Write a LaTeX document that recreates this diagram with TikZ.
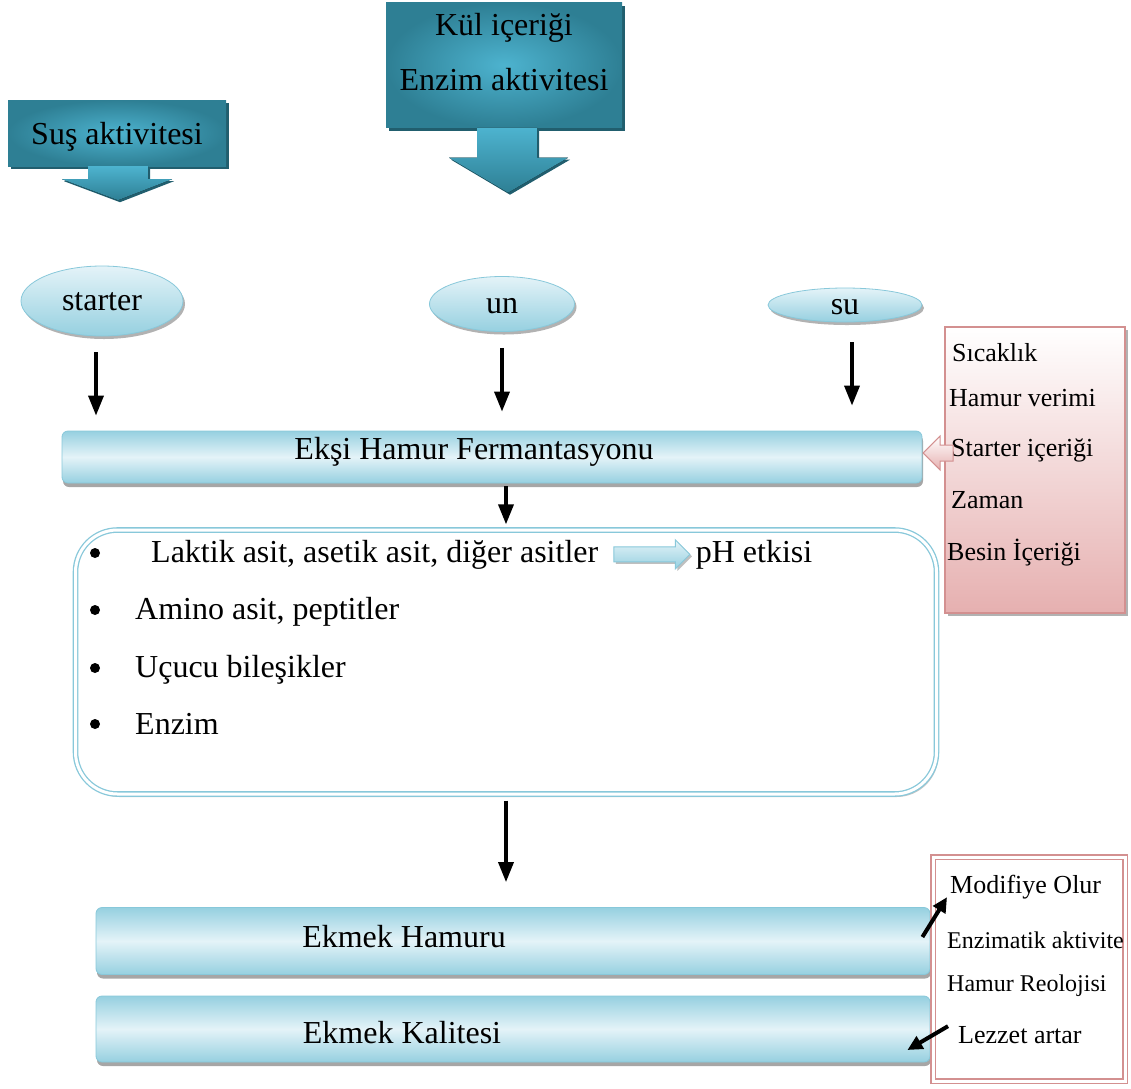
\documentclass[tikz,border=0pt]{standalone}
\usepackage{fontspec}
\setmainfont{Liberation Serif}
\usepackage{xcolor}
\usepackage{tikz}
\usetikzlibrary{shapes.geometric}
\usetikzlibrary{shapes.arrows}
\usetikzlibrary{positioning}
\usetikzlibrary{calc}
\usetikzlibrary{shadows}
\usetikzlibrary{arrows.meta}

\definecolor{tealdark}{HTML}{2E7F94}
\definecolor{teallight}{HTML}{4DB3CF}
\definecolor{tealshade}{HTML}{215E6E}
\definecolor{blueline}{HTML}{88C8DA}
\definecolor{bluefill}{HTML}{96D0E0}
\definecolor{bluepale}{HTML}{E4F3F8}
\definecolor{pinkline}{HTML}{D39090}
\definecolor{pinkfill}{HTML}{E6B0B0}

\newcommand{\mainsize}{\fontsize{32}{38}\selectfont}
\newcommand{\sidesize}{\fontsize{26}{30}\selectfont}
\newcommand{\smallsize}{\fontsize{24}{28}\selectfont}

\begin{document}
\begin{tikzpicture}[x=1pt, y=-1pt, font=\mainsize,
  topbox/.style={rectangle, inner color=teallight, outer color=tealdark,
    drop shadow={shadow xshift=3pt, shadow yshift=-3pt, fill=tealshade, opacity=1}},
  blockarrow/.style={top color=teallight, bottom color=tealdark,
    drop shadow={shadow xshift=2pt, shadow yshift=-2pt, fill=tealshade, opacity=1}},
  ingredient/.style={ellipse, draw=blueline, thick, inner sep=0pt, text height=18pt, text depth=0pt,
    top color=bluepale, bottom color=bluefill,
    drop shadow={shadow xshift=2pt, shadow yshift=-3pt, fill=gray!60, opacity=1}},
  bar/.style={rectangle, rounded corners=6pt, draw=blueline, thick,
    top color=bluefill, bottom color=bluefill, middle color=bluepale,
    drop shadow={shadow xshift=1pt, shadow yshift=-4pt, fill=gray!70, opacity=1}},
  flow/.style={line width=3.5pt, -{Triangle[length=20pt, width=15pt]}},
  item/.style={inner sep=0pt},
  dot/.style={circle, fill=black, inner sep=0pt, minimum size=10pt},
  factor/.style={font=\sidesize, anchor=west, inner sep=0pt}]
\useasboundingbox (0,0) rectangle (1131,1088);

% inputs at the top
\node[topbox, minimum width=218pt, minimum height=66pt, text depth=0pt] (sus) at (117,133) {Suş aktivitesi};
\fill[blockarrow] ($(sus.south)+(-29,0)$) -- ++(0,13) -- ++(-26,0) -- ($(sus.south)+(1,34)$)
  -- ($(sus.south)+(55,13)$) -- ++(-24,0) -- ++(0,-13) -- cycle;
\node[topbox, minimum width=236pt, minimum height=125pt,
  label={[yshift=13pt, align=center, font=\fontsize{32}{55}\selectfont]center:{Kül içeriği\\Enzim aktivitesi}}] (kul) at (504,65) {};
\fill[blockarrow] ($(kul.south)+(-27,0)$) -- ++(0,30) -- ++(-28,0) -- ($(kul.south)+(4,65)$)
  -- ($(kul.south)+(64,30)$) -- ++(-31,0) -- ++(0,-30) -- cycle;

% ingredients
\node[ingredient, minimum width=162pt, minimum height=70pt] (starter) at (102,301) {starter};
\node[ingredient, minimum width=145pt, minimum height=55pt] (un) at (502,304) {un};
\node[ingredient, minimum width=154pt, minimum height=34pt] (su) at (845,305) {su};

\node[bar, minimum width=860pt, minimum height=52pt,
  label={[xshift=-18pt, yshift=5pt]center:Ekşi Hamur Fermantasyonu}] (ferm) at (492,457) {};

\draw[flow, shorten <=16pt, shorten >=15pt] ([xshift=-6pt]starter.south) -- ([xshift=-6pt]starter.south |- ferm.north);
\draw[flow, shorten <=16pt, shorten >=19pt] (un.south) -- (un.south |- ferm.north);
\draw[flow, shorten <=20pt, shorten >=25pt] ([xshift=7pt]su.south) -- ([xshift=7pt]su.south |- ferm.north);

% fermentation conditions
\node[rectangle, draw=pinkline, line width=1.5pt, top color=white, bottom color=pinkfill,
  minimum width=180pt, minimum height=286pt,
  drop shadow={shadow xshift=3pt, shadow yshift=-3pt, fill=gray!60, opacity=1}] (conditions) at (1035,470) {};
\node[factor] (heat) at (952,353) {Sıcaklık};
\node[factor] (yield) at (949,398) {Hamur verimi};
\node[factor] (share) at (951,450) {Starter içeriği};
\node[factor] (time) at (951,500) {Zaman};
\node[factor] (nutrient) at (947,553) {Besin İçeriği};
\node[single arrow, shape border rotate=180, draw=pinkline, line width=1pt, top color=white, bottom color=pinkfill,
  minimum height=30pt, text height=7.5pt, text depth=7.5pt, text width=0pt,
  single arrow head extend=9pt, inner sep=0pt,
  anchor=tip] (pointer) at ([yshift=4pt]ferm.east) {};

% products of fermentation
\node[draw=blueline, double=white, double distance=3pt, line width=1.3pt, fill=white,
  rounded corners=42pt, minimum width=861pt, minimum height=264pt,
  drop shadow={shadow xshift=2pt, shadow yshift=-3pt, fill=gray!45, opacity=1}] (effects) at (506,662) {};
\draw[flow, shorten <=3pt, shorten >=5pt] (ferm.south -| effects.north) -- (effects.north);

\foreach \yy in {553,610,668,724}
  \node[dot] (dot\yy) at (95,\yy) {};
\node[item, anchor=base west] (lactic) at (151,562) {Laktik asit, asetik asit, diğer asitler};
\node[single arrow, draw=blueline, line width=1pt, top color=bluepale, bottom color=bluefill,
  minimum height=76pt, text height=7pt, text depth=7pt, text width=0pt,
  single arrow head extend=7pt, inner sep=0pt,
  drop shadow={shadow xshift=2pt, shadow yshift=-2pt, fill=gray!50, opacity=1},
  right=15pt of lactic] (phArrow) {};
\node[item, right=5pt of phArrow] (ph) {pH etkisi};
\node[item, anchor=base west] (amino) at (135,619) {Amino asit, peptitler};
\node[item, anchor=base west] (volatile) at (135,677) {Uçucu bileşikler};
\node[item, anchor=base west] (enzyme) at (135,734) {Enzim};

% bread
\node[bar, minimum width=834pt, minimum height=67pt,
  label={[xshift=-109pt, yshift=4pt]center:Ekmek Hamuru}] (hamur) at (513,941) {};
\node[bar, minimum width=834pt, minimum height=66pt,
  label={[xshift=-111pt, yshift=-4pt]center:Ekmek Kalitesi}] (kalite) at (513,1029) {};
\draw[flow, shorten <=6pt, shorten >=25pt] (effects.south) -- (effects.south |- hamur.north);

% results
\node[rectangle, draw=pinkline, double=white, double distance=3pt, line width=1.2pt, fill=white,
  minimum width=192pt, minimum height=224pt] (results) at (1029,969) {};
\node[factor] (modify) at (950,887) {Modifiye Olur};
\node[factor, font=\smallsize] (enzact) at (947,940) {Enzimatik aktivite};
\node[factor, font=\smallsize] (rheo) at (947,986) {Hamur Reolojisi};
\node[factor] (flavor) at (958,1035) {Lezzet artar};
\draw[line width=4pt, -{Triangle[length=15pt, width=14pt]}] ([xshift=-8pt, yshift=4pt]hamur.east) -- ([xshift=-3pt, yshift=2pt]modify.south west);
\draw[line width=4pt, -{Triangle[length=15pt, width=14pt]}] ([xshift=-10pt]flavor.north west) -- ([xshift=-23pt, yshift=-21pt]kalite.east);
\end{tikzpicture}
\end{document}
